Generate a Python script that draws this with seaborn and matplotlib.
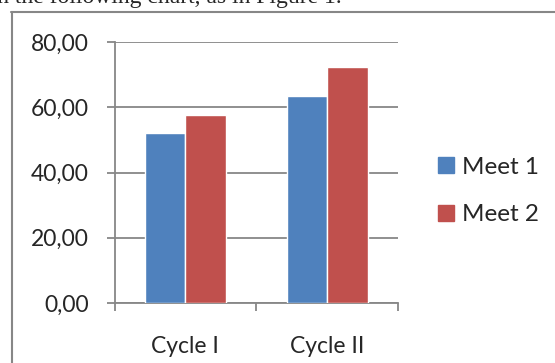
import numpy as np
import pandas as pd
import matplotlib.pyplot as plt
import seaborn as sns
from matplotlib.lines import Line2D
from matplotlib.ticker import FixedLocator

# data
cycles = ["Cycle I", "Cycle II"]
meet1 = [52.1, 63.3]
meet2 = [57.6, 72.3]
series = ["Meet 1", "Meet 2"]
colors = ["#4F81BD", "#C0504D"]
yticks = [0, 20, 40, 60, 80]

df = pd.DataFrame({
    "cycle": cycles * 2,
    "value": meet1 + meet2,
    "meet": [series[0]] * 2 + [series[1]] * 2,
})

sns.set_style("white")
plt.rcParams["font.family"] = ["Lato", "DejaVu Sans"]

W, H = 555, 363
fig = plt.figure(figsize=(W / 100, H / 100), dpi=100)
fig.patch.set_facecolor("white")

gray = "#878787"

# plot area in pixels
left, right, top, bottom = 114.5, 398, 42, 303
ax = fig.add_axes([left / W, 1 - bottom / H, (right - left) / W, (bottom - top) / H])

sns.barplot(data=df, x="cycle", y="value", hue="meet", palette=colors,
            width=0.57, saturation=1, ax=ax, legend=False, zorder=3)

ax.set_ylim(0, 80)
ax.set_xlim(-0.5, 1.5)
ax.set_yticks(yticks)
ax.set_yticklabels([f"{v:.2f}".replace(".", ",") for v in yticks])
ax.yaxis.grid(True, color=gray, lw=1.3, zorder=0)
ax.set_axisbelow(True)
ax.set_xlabel("")
ax.set_ylabel("")

for s in ["top", "right"]:
    ax.spines[s].set_visible(False)
for s in ["left", "bottom"]:
    ax.spines[s].set_color(gray)
    ax.spines[s].set_linewidth(1.3)

ax.tick_params(axis="y", which="major", length=5.5, width=1.3, color=gray,
               direction="out", pad=13, labelsize=16.5, left=True)
ax.tick_params(axis="x", which="major", length=0, pad=24, labelsize=16.5)
ax.xaxis.set_minor_locator(FixedLocator([-0.5, 0.5, 1.5]))
ax.tick_params(axis="x", which="minor", length=5.5, width=1.3, color=gray,
               direction="out", bottom=True)

# legend
handles = [plt.Rectangle((0, 0), 1, 1, color=c) for c in colors]
fig.legend(handles, series, loc="center left",
           bbox_to_anchor=(416 / W, 1 - 191 / H), frameon=False,
           fontsize=17.5, handlelength=0.65, handleheight=0.65,
           handletextpad=0.35, labelspacing=1.1)

# outer chart frame
fig.add_artist(Line2D([11.7 / W, 11.7 / W], [0, 1 - 12.3 / H],
                      transform=fig.transFigure, color=gray, lw=1.5))
fig.add_artist(Line2D([11 / W, 1], [1 - 12.3 / H, 1 - 12.3 / H],
                      transform=fig.transFigure, color=gray, lw=1.5))

# sentence above the chart, cut off by the top edge as in the source
fig.text(342 / W, 1 - 3.5 / H, "ent in the following chart, as in Figure 1.",
         ha="right", va="baseline", fontsize=17,
         family=["Liberation Serif", "DejaVu Serif"])

fig.savefig("out.png", dpi=100, facecolor="white")
